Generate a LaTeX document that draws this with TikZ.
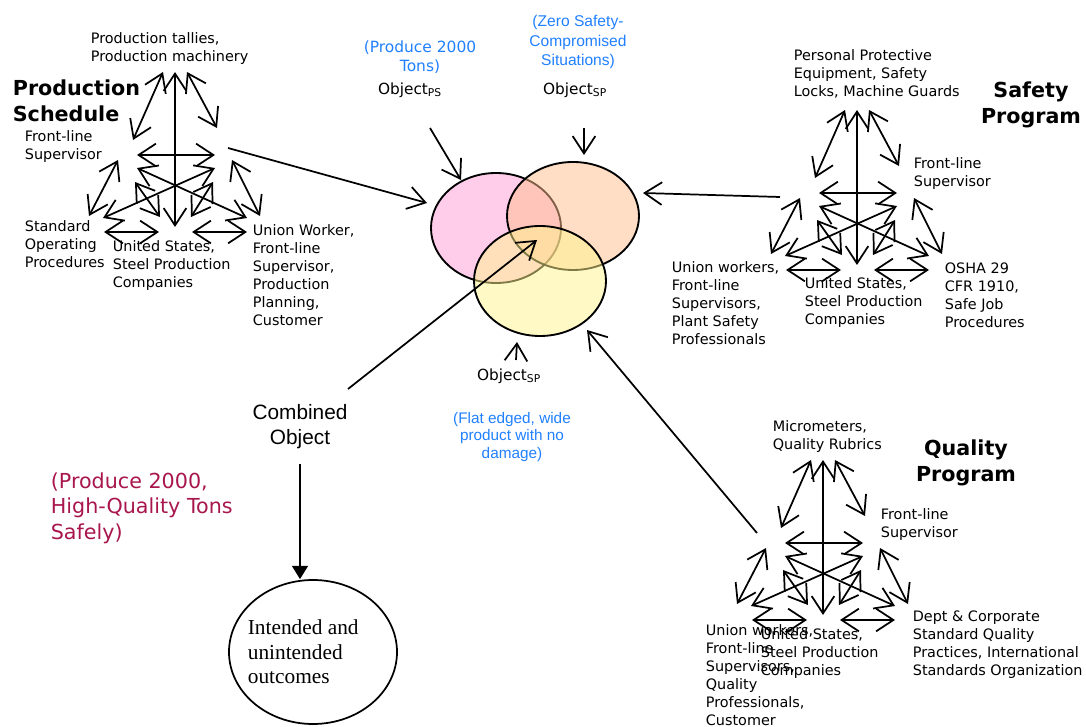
\documentclass[tikz,border=0pt]{standalone}
\usepackage{fontspec}
\setmainfont{DejaVu Sans}
\newfontfamily\arialfont{Liberation Sans}
\newfontfamily\romanfont{Liberation Serif}
\usetikzlibrary{arrows.meta,shapes.geometric}

\definecolor{goalblue}{RGB}{32,128,255}
\definecolor{goalred}{RGB}{168,22,77}
\definecolor{venpink}{RGB}{255,153,214}
\definecolor{venorange}{RGB}{255,190,140}
\definecolor{venyellow}{RGB}{255,245,140}

% Activity-system triangle, origin at its apex (units: px, y downward)
\newcommand\activitysystem{%
  \draw[<->] (0,0) -- (0,155);
  \draw[<->] (-12,0) -- (-42,68);
  \draw[<->] (12,0) -- (42,56);
  \draw[<->] (-38,83) -- (40,83);
  \draw[<->] (-57,88) -- (-86,144);
  \draw[<->] (57,88) -- (85,144);
  \draw[<->] (-38,96) -- (72,146);
  \draw[<->] (40,96) -- (-72,146);
  \draw[<->] (-40,110) -- (-15,145);
  \draw[<->] (38,110) -- (16,145);
  \draw[<->] (-71,160) -- (-16,160);
  \draw[<->] (17,160) -- (72,160);
}

\begin{document}
\begin{tikzpicture}[x=0.75pt,y=-0.75pt,line width=1.3pt,
  >={Straight Barb[length=13pt,width=17pt]},
  lbl/.style={font=\fontsize{10.8}{13.5}\selectfont,align=left,anchor=west,inner sep=0pt},
  title/.style={font=\fontsize{15.5}{19.5}\selectfont\bfseries,inner sep=0pt},
  objlbl/.style={font=\fontsize{11.5}{14}\selectfont,inner sep=0pt},
  bluegoal/.style={text=goalblue,align=center,inner sep=0pt},
  venn/.style={ellipse,draw,line width=1.4pt,fill opacity=0.5,inner sep=0pt},
  link/.style={->}]
\useasboundingbox (0,0) rectangle (1086,727);

% ---- Production Schedule ----
\begin{scope}[shift={(175,72)}]\activitysystem\end{scope}
\node[title,align=left,anchor=west] (t-ps) at (12,101) {Production\\Schedule};
\node[lbl] (ps-tools) at (90,49) {Production tallies,\\Production machinery};
\node[lbl] (ps-subj) at (24,147) {Front-line\\Supervisor};
\node[lbl] (ps-rules) at (24,244) {Standard\\Operating\\Procedures};
\node[lbl] (ps-comm) at (112,266) {United States,\\Steel Production\\Companies};
\node[lbl] (ps-div) at (252,275.5) {Union Worker,\\Front-line\\Supervisor,\\Production\\Planning,\\Customer};

% ---- Safety Program ----
\begin{scope}[shift={(857,110)}]\activitysystem\end{scope}
\node[title,align=center] (t-sp) at (1031,104.5) {Safety\\Program};
\node[lbl] (sp-tools) at (793,74) {Personal Protective\\Equipment, Safety\\Locks, Machine Guards};
\node[lbl] (sp-subj) at (913,174) {Front-line\\Supervisor};
\node[lbl] (sp-div) at (671,303.5) {Union workers,\\Front-line\\Supervisors,\\Plant Safety\\Professionals};
\node[lbl] (sp-comm) at (804,303) {United States,\\Steel Production\\Companies};
\node[lbl] (sp-rules) at (944,295) {OSHA 29\\CFR 1910,\\Safe Job\\Procedures};

% ---- Quality Program ----
\begin{scope}[shift={(823,460)}]\activitysystem\end{scope}
\node[title,align=center] (t-qp) at (966,463) {Quality\\Program};
\node[lbl] (qp-tools) at (772,437) {Micrometers,\\Quality Rubrics};
\node[lbl] (qp-subj) at (880,525) {Front-line\\Supervisor};
\node[lbl] (qp-rules) at (912,645) {Dept \& Corporate\\Standard Quality\\Practices, International\\Standards Organization};
\node[lbl] (qp-comm) at (760,654) {United States,\\Steel Production\\Companies};
\node[lbl] (qp-div) at (705,675) {Union workers,\\Front-line\\Supervisors,\\Quality\\Professionals,\\Customer};

% ---- Objects (Venn) ----
\node[venn,fill=venpink,minimum width=97.5pt,minimum height=82.5pt] (o-ps) at (496,228) {};
\node[venn,fill=venorange,minimum width=99pt,minimum height=81pt] (o-sp) at (573,216) {};
\node[venn,fill=venyellow,minimum width=99pt,minimum height=82.5pt] (o-qp) at (540,281) {};

\node[bluegoal,font=\fontsize{11.6}{13.9}\selectfont] (g-ps) at (420,57) {(Produce 2000\\Tons)};
\node[objlbl] (l-ps) at (410,90) {Object\textsubscript{PS}};
\node[bluegoal,font=\arialfont\fontsize{11.7}{14.3}\selectfont] (g-sp) at (578,42) {(Zero Safety-\\Compromised\\Situations)};
\node[objlbl] (l-sp) at (575,90) {Object\textsubscript{SP}};
\node[objlbl] (l-qp) at (509,376) {Object\textsubscript{SP}};
\node[bluegoal,font=\arialfont\fontsize{11.5}{13.1}\selectfont] (g-qp) at (512,437) {(Flat edged, wide\\product with no\\damage)};

% connector end points
\coordinate (a1s) at (228,148); \coordinate (a1e) at (427,203);
\coordinate (a2s) at (430,128); \coordinate (a2e) at (461,180);
\coordinate (a3s) at (584,128); \coordinate (a3e) at (584,155);
\coordinate (a4s) at (780,197); \coordinate (a4e) at (643,193);
\coordinate (a5s) at (516,360); \coordinate (a5e) at (517,342);
\coordinate (a6s) at (757,533); \coordinate (a6e) at (587,330);
\coordinate (a7s) at (348,389); \coordinate (a7e) at (537,240);

\draw[link] (a1s) -- (a1e);
\draw[link] (a2s) -- (a2e);
\draw[link] (a3s) -- (a3e);
\draw[link] (a4s) -- (a4e);
\draw[link] (a5s) -- (a5e);
\draw[link] (a6s) -- (a6e);
\draw[link] (a7s) -- (a7e);

% ---- Combined object and outcomes ----
\node[inner sep=0pt,align=center,font=\arialfont\fontsize{15.6}{18.75}\selectfont] (comb) at (300,427) {Combined\\Object};
\node[inner sep=0pt,align=left,anchor=west,text=goalred,font=\fontsize{15.5}{19}\selectfont] (goal) at (50,508) {(Produce 2000,\\High-Quality Tons\\Safely)};
\node[ellipse,draw,line width=1.3pt,minimum width=126pt,minimum height=108pt,inner sep=0pt] (out) at (313,652) {};
\node[inner sep=0pt,align=left,anchor=west,font=\romanfont\fontsize{16}{18.4}\selectfont] (out-txt) at (247,652) {Intended and\\unintended\\outcomes};
\draw[-{Triangle[length=10pt,width=12pt]}] (comb.south) ++(0,14) -- (out.north -| comb.south);
\end{tikzpicture}
\end{document}
